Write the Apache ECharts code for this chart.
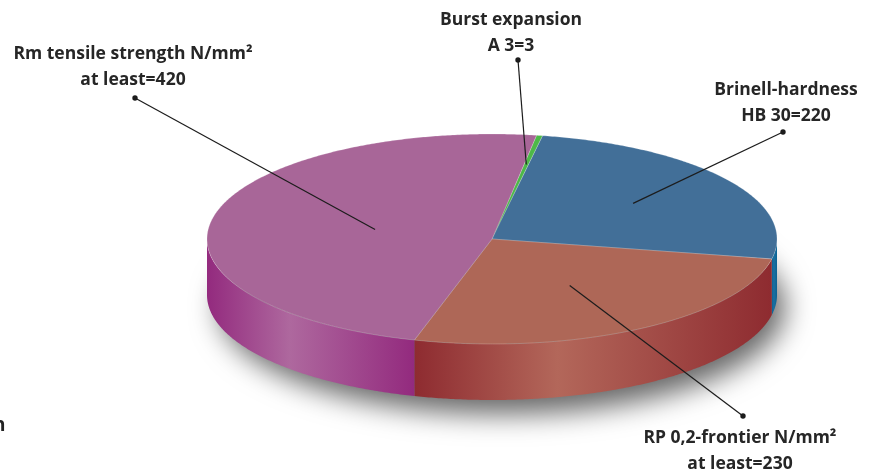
<!DOCTYPE html>
<html>
<head>
<meta charset="utf-8">
<script src="https://cdn.jsdelivr.net/npm/echarts@6/dist/echarts.min.js"></script>
<style>
  html, body { margin: 0; padding: 0; background: #ffffff; }
  #chart { width: 872px; height: 476px; }
</style>
</head>
<body>
<div id="chart"></div>
<script>
// Mechanical properties of the material, drawn as a tilted (3D) pie.
const categories = ['Burst expansion', 'Brinell-hardness', 'RP 0,2-frontier', 'Rm tensile strength'];
const values = [3, 220, 230, 420];
const titleLines = ['Burst expansion', 'Brinell-hardness', 'RP 0,2-frontier N/mm²', 'Rm tensile strength N/mm²'];
const valuePrefixes = ['A 3=', 'HB 30=', 'at least=', 'at least='];

// Slice colours: top face, and the side wall (edge shade, highlight)
const topColors = ['#4db848', '#426f98', '#ae6757', '#a86698'];
const sideColors = [
  ['#2f8a2c', '#5cc458'],
  ['#0b6294', '#1a6fa0'],
  ['#8e2b30', '#b3675a'],
  ['#932a7e', '#ae689e']
];

// Geometry of the tilted disc (pixels / degrees, clockwise from 12 o'clock)
const geo = { cx: 492, cy: 239, rx: 285, ry: 105, depth: 56, startAngle: 9 };

// Where each callout sits and how far into its slice the leader reaches
const calloutLayout = [
  { x: 511, y: 33,  dot: [518, 60],  reach: 0.72 },
  { x: 786, y: 103, dot: [783, 132], reach: 0.6 },
  { x: 740, y: 451, dot: [743, 416], reach: 0.52 },
  { x: 133, y: 67,  dot: [135, 98],  reach: 0.42 }
];

const total = values.reduce((s, v) => s + v, 0);
const sliceAngles = [];
(function () {
  let acc = 0;
  values.forEach(v => {
    const a0 = geo.startAngle + acc / total * 360;
    acc += v;
    sliceAngles.push([a0, geo.startAngle + acc / total * 360]);
  });
})();

function ellipsePoint(deg, r, dy) {
  const a = deg * Math.PI / 180;
  return [geo.cx + geo.rx * r * Math.sin(a), geo.cy - geo.ry * r * Math.cos(a) + (dy || 0)];
}
function arcPoints(a0, a1, r, dy) {
  const n = Math.max(2, Math.ceil(Math.abs(a1 - a0) / 0.5));
  const pts = [];
  for (let i = 0; i <= n; i++) pts.push(ellipsePoint(a0 + (a1 - a0) * i / n, r, dy));
  return pts;
}

function renderSlice(params, api) {
  const i = params.dataIndex;
  const value = api.value(1);
  const [a0, a1] = sliceAngles[i];
  const children = [];

  // Side wall: only the part of the rim facing the viewer (90..270 deg)
  const s0 = Math.max(a0, 90), s1 = Math.min(a1, 270);
  if (s1 > s0) {
    const topArc = arcPoints(s0, s1, 1, 0);
    const bottomArc = arcPoints(s0, s1, 1, geo.depth).reverse();
    const pts = topArc.concat(bottomArc);
    const xs = pts.map(p => p[0]);
    const xMin = Math.min.apply(null, xs), xMax = Math.max.apply(null, xs);
    const [edge, light] = sideColors[i];
    children.push({
      type: 'polygon',
      z2: 1,
      shape: { points: pts },
      style: {
        fill: new echarts.graphic.LinearGradient(xMin, 0, xMax, 0, [
          { offset: 0, color: edge },
          { offset: 0.4, color: light },
          { offset: 1, color: edge }
        ], true)
      }
    });
  }

  // Top face
  const top = [[geo.cx, geo.cy]].concat(arcPoints(a0, a1, 1, 0));
  children.push({
    type: 'polygon',
    z2: 5,
    shape: { points: top },
    style: { fill: topColors[i], stroke: 'rgba(255,255,255,0.35)', lineWidth: 0.6 }
  });

  // Callout: leader line, dot and two-line text
  const c = calloutLayout[i];
  const mid = (a0 + a1) / 2;
  const end = ellipsePoint(mid, c.reach, 0);
  children.push({
    type: 'line',
    z2: 10,
    shape: { x1: c.dot[0], y1: c.dot[1], x2: end[0], y2: end[1] },
    style: { stroke: '#1c1c1c', lineWidth: 1.2 }
  });
  children.push({
    type: 'circle',
    z2: 10,
    shape: { cx: c.dot[0], cy: c.dot[1], r: 2.7 },
    style: { fill: '#1c1c1c' }
  });
  children.push({
    type: 'text',
    z2: 10,
    style: {
      x: c.x,
      y: c.y,
      text: titleLines[i] + '\n' + valuePrefixes[i] + value,
      align: 'center',
      verticalAlign: 'middle',
      lineHeight: 26,
      fontFamily: '"Open Sans", "Noto Sans", sans-serif',
      fontWeight: 'bold',
      fontSize: 17.5,
      fill: '#262626'
    }
  });

  return { type: 'group', children: children };
}

const chart = echarts.init(document.getElementById('chart'), null, { renderer: 'canvas' });
chart.setOption({
  backgroundColor: '#ffffff',
  animation: false,
  graphic: [
    {
      // soft drop shadow under the disc (caster kept off-canvas, only its shadow shows)
      type: 'ellipse',
      z: 0,
      silent: true,
      shape: { cx: geo.cx - 3000, cy: geo.cy + geo.depth + 12, rx: geo.rx - 2, ry: geo.ry + 2 },
      style: {
        fill: '#000',
        shadowBlur: 28,
        shadowColor: 'rgba(0,0,0,0.6)',
        shadowOffsetX: 3010,
        shadowOffsetY: 0
      }
    },
    {
      type: 'text',
      z: 0,
      silent: true,
      style: {
        x: -7, y: 426, text: 'n', verticalAlign: 'middle',
        fontFamily: '"Open Sans", sans-serif', fontWeight: 'bold', fontSize: 19, fill: '#222'
      }
    }
  ],
  series: [{
    type: 'custom',
    coordinateSystem: 'none',
    renderItem: renderSlice,
    data: categories.map((name, i) => ({ name: name, value: [i, values[i]] }))
  }]
});
</script>
</body>
</html>
